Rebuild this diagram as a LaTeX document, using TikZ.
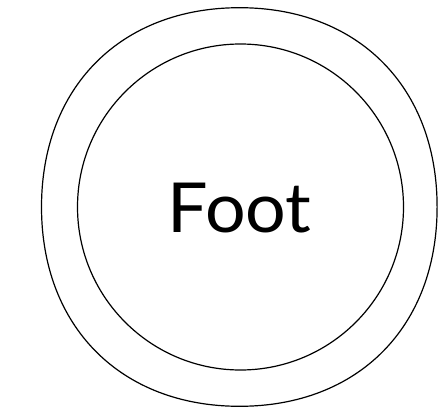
\documentclass[tikz,border=0pt]{standalone}
\usepackage{fontspec}
\setmainfont{Lato}
\begin{document}
\begin{tikzpicture}[x=1pt,y=-1pt,
  ring/.style={draw=black,line width=1.2pt},
  footnode/.style={ring,circle,minimum size=326pt,inner sep=0pt}]
\useasboundingbox (0,0) rectangle (438,409);
\draw[ring] (437.1,207) .. controls (437.1,87.3) and (358.3,7.7) .. (239.5,7.7)
  .. controls (120.7,7.7) and (41.5,87.3) .. (41.5,207)
  .. controls (41.5,326.7) and (120.7,406.3) .. (239.5,406.3)
  .. controls (358.3,406.3) and (437.1,326.7) .. (437.1,207) -- cycle;
\node[footnode] (foot) at (240.5,207) {};
\node[font=\fontsize{69}{76}\selectfont,inner sep=0pt,anchor=base,xscale=1.04] (label) at (239.5,232) {Foot};
\end{tikzpicture}
\end{document}
